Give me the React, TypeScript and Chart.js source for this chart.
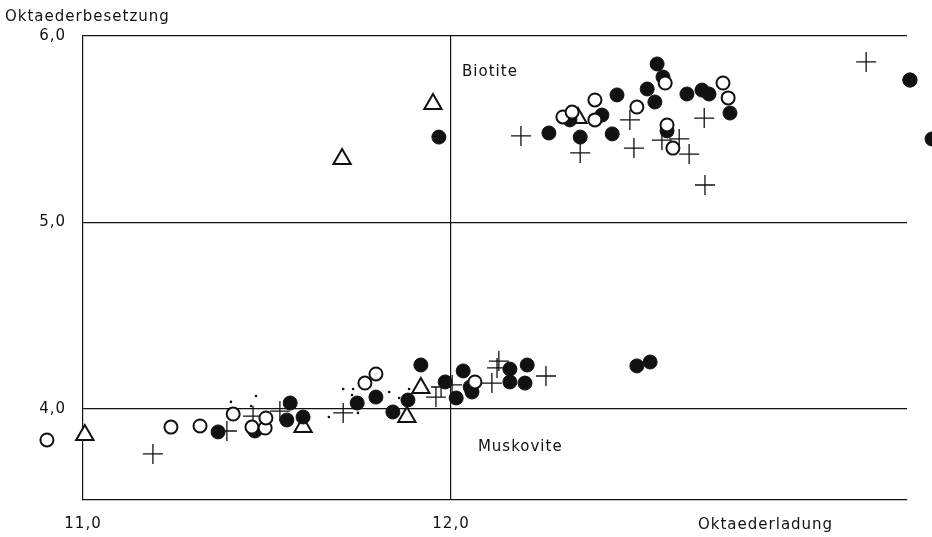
import React, { useEffect, useRef } from 'react';
import { Chart, registerables } from 'chart.js';

Chart.register(...registerables);

// Axis ticks
const xTicks = [11, 12];
const yTicks = [4, 5, 6];
const xRange = [11.0, 13.239];
const yRange = [3.512, 6.0];

// Filled circles
const filledCircles: [number, number][] = [
  [11.967, 5.458], [12.266, 5.48], [12.323, 5.55], [12.351, 5.458], [12.41, 5.576],
  [12.438, 5.475], [12.451, 5.684], [12.533, 5.716], [12.554, 5.646], [12.56, 5.85],
  [12.576, 5.78], [12.587, 5.491], [12.641, 5.689], [12.682, 5.71], [12.701, 5.689],
  [12.758, 5.587], [13.247, 5.764], [13.307, 5.448],
  [11.367, 3.877], [11.467, 3.882], [11.563, 4.032], [11.554, 3.941], [11.598, 3.957],
  [11.745, 4.032], [11.796, 4.064], [11.842, 3.984], [11.883, 4.048], [11.918, 4.236],
  [11.984, 4.145], [12.014, 4.059], [12.033, 4.204], [12.052, 4.118], [12.057, 4.091],
  [12.16, 4.214], [12.207, 4.236], [12.16, 4.145], [12.201, 4.139],
  [12.505, 4.231], [12.541, 4.252],
];

// Open circles
const openCircles: [number, number][] = [
  [12.304, 5.566], [12.329, 5.592], [12.391, 5.657], [12.391, 5.55], [12.505, 5.619],
  [12.582, 5.748], [12.587, 5.523], [12.603, 5.399], [12.739, 5.748], [12.753, 5.668],
  [10.902, 3.834], [11.239, 3.903], [11.318, 3.909], [11.408, 3.973], [11.459, 3.903],
  [11.495, 3.898], [11.497, 3.952], [11.766, 4.139], [11.796, 4.188], [12.065, 4.145],
];

// Open triangles
const triangles: [number, number][] = [
  [11.951, 5.635], [11.704, 5.34], [12.345, 5.56],
  [11.005, 3.861], [11.598, 3.903], [11.88, 3.957], [11.918, 4.113],
];

// Crosses
const crosses: [number, number][] = [
  [12.19, 5.464], [12.351, 5.373], [12.486, 5.55], [12.497, 5.399], [12.573, 5.442],
  [12.62, 5.448], [12.647, 5.367], [12.688, 5.56], [12.69, 5.201], [13.128, 5.861],
  [11.19, 3.759], [11.391, 3.882], [11.462, 3.962], [11.535, 3.989], [11.707, 3.979],
  [11.959, 4.064], [11.973, 4.118], [12.003, 4.129], [12.111, 4.139], [12.13, 4.257],
  [12.125, 4.22], [12.258, 4.177],
];

// Small dots
const dots: [number, number][] = [
  [11.402, 4.038], [11.47, 4.07], [11.457, 4.016], [11.668, 3.957], [11.707, 4.107],
  [11.734, 4.107], [11.731, 4.075], [11.747, 3.979], [11.832, 4.091], [11.859, 4.059],
  [11.886, 4.107],
];

const yTitle = 'Oktaederbesetzung';
const xTitle = 'Oktaederladung';
const regionLabels: { text: string; x: number; y: number }[] = [
  { text: 'Biotite', x: 12.03, y: 5.807 },
  { text: 'Muskovite', x: 12.073, y: 3.796 },
];

const FONT = '"DejaVu Sans", sans-serif';
const INK = '#111';

const toXY = (arr: [number, number][]) => arr.map(([x, y]) => ({ x, y }));
const fmt = (v: number) => v.toFixed(1).replace('.', ',');

// Chart.js skips points outside the chart area; draw those explicitly.
const outsidePointsPlugin = {
  id: 'outsidePoints',
  afterDatasetsDraw(chart: any) {
    const area = chart.chartArea;
    const big = { left: -1e5, right: 1e5, top: -1e5, bottom: 1e5 };
    const ctx = chart.ctx;
    const n = chart.data.datasets.length;
    for (let i = n - 1; i >= 0; i--) {
      const meta = chart.getDatasetMeta(i);
      for (const el of meta.data) {
        const inside =
          el.x >= area.left && el.x <= area.right && el.y >= area.top && el.y <= area.bottom;
        if (!inside) {
          el.draw(ctx, big);
        }
      }
    }
  },
};

const textPlugin = {
  id: 'textPlugin',
  beforeDraw(chart: any) {
    (chart.ctx as any).letterSpacing = '1px';
  },
  afterDraw(chart: any) {
    const ctx = chart.ctx as CanvasRenderingContext2D;
    const { chartArea, scales } = chart;
    ctx.save();
    (ctx as any).letterSpacing = '1px';
    ctx.fillStyle = INK;
    ctx.font = `15px ${FONT}`;
    ctx.textBaseline = 'middle';
    ctx.textAlign = 'left';
    ctx.fillText(yTitle, 5, chartArea.top - 19);
    ctx.fillText(xTitle, chartArea.right - 209, chartArea.bottom + 25);
    for (const l of regionLabels) {
      ctx.fillText(l.text, scales.x.getPixelForValue(l.x), scales.y.getPixelForValue(l.y));
    }
    ctx.restore();
  },
};

export default function App() {
  const ref = useRef<HTMLCanvasElement | null>(null);
  useEffect(() => {
    if (!ref.current) return;
    const chart = new Chart(ref.current, {
      type: 'scatter',
      data: {
        datasets: [
          {
            label: 'dots',
            data: toXY(dots),
            pointStyle: 'circle',
            pointRadius: 1.3,
            backgroundColor: INK,
            borderColor: INK,
            borderWidth: 0,
            clip: false,
          },
          {
            label: 'open circles',
            data: toXY(openCircles),
            pointStyle: 'circle',
            pointRadius: 6.5,
            backgroundColor: '#fff',
            borderColor: INK,
            borderWidth: 2,
            clip: false,
          },
          {
            label: 'filled circles',
            data: toXY(filledCircles),
            pointStyle: 'circle',
            pointRadius: 7,
            backgroundColor: INK,
            borderColor: INK,
            borderWidth: 1,
            clip: false,
          },
          {
            label: 'triangles',
            data: toXY(triangles),
            pointStyle: 'triangle',
            pointRadius: 10,
            backgroundColor: '#fff',
            borderColor: INK,
            borderWidth: 2,
            clip: false,
          },
          {
            label: 'crosses',
            data: toXY(crosses),
            pointStyle: 'cross',
            pointRadius: 10,
            backgroundColor: INK,
            borderColor: INK,
            borderWidth: 1.3,
            clip: false,
          },
        ],
      },
      options: {
        animation: false,
        responsive: false,
        maintainAspectRatio: false,
        layout: { padding: { top: 36, right: 25, left: 0, bottom: 0 } },
        plugins: {
          legend: { display: false },
          tooltip: { enabled: false },
        },
        scales: {
          x: {
            type: 'linear',
            min: xRange[0],
            max: xRange[1],
            afterBuildTicks: (s: any) => {
              s.ticks = xTicks.map((v) => ({ value: v }));
            },
            afterFit: (s: any) => {
              s.height = 37;
            },
            grid: {
              drawTicks: false,
              color: (c: any) => (c.tick && c.tick.value === 12 ? INK : 'rgba(0,0,0,0)'),
              lineWidth: 1.2,
            },
            border: { display: true, color: INK, width: 1.2 },
            ticks: {
              padding: 15,
              color: INK,
              font: { family: FONT, size: 15 },
              callback: (v: any) => fmt(Number(v)),
            },
          },
          y: {
            type: 'linear',
            min: yRange[0],
            max: yRange[1],
            afterBuildTicks: (s: any) => {
              s.ticks = yTicks.map((v) => ({ value: v }));
            },
            afterFit: (s: any) => {
              s.width = 83;
            },
            grid: {
              drawTicks: false,
              color: INK,
              lineWidth: 1.2,
            },
            border: { display: true, color: INK, width: 1.2 },
            ticks: {
              padding: 17,
              color: INK,
              font: { family: FONT, size: 15 },
              callback: (v: any) => fmt(Number(v)),
            },
          },
        },
      },
      plugins: [outsidePointsPlugin, textPlugin],
    } as any);
    return () => chart.destroy();
  }, []);

  return (
    <div style={{ position: 'fixed', left: 0, top: 0, width: 932, height: 537, background: '#fff' }}>
      <canvas ref={ref} width={932} height={537} style={{ width: 932, height: 537, display: 'block' }} />
    </div>
  );
}
